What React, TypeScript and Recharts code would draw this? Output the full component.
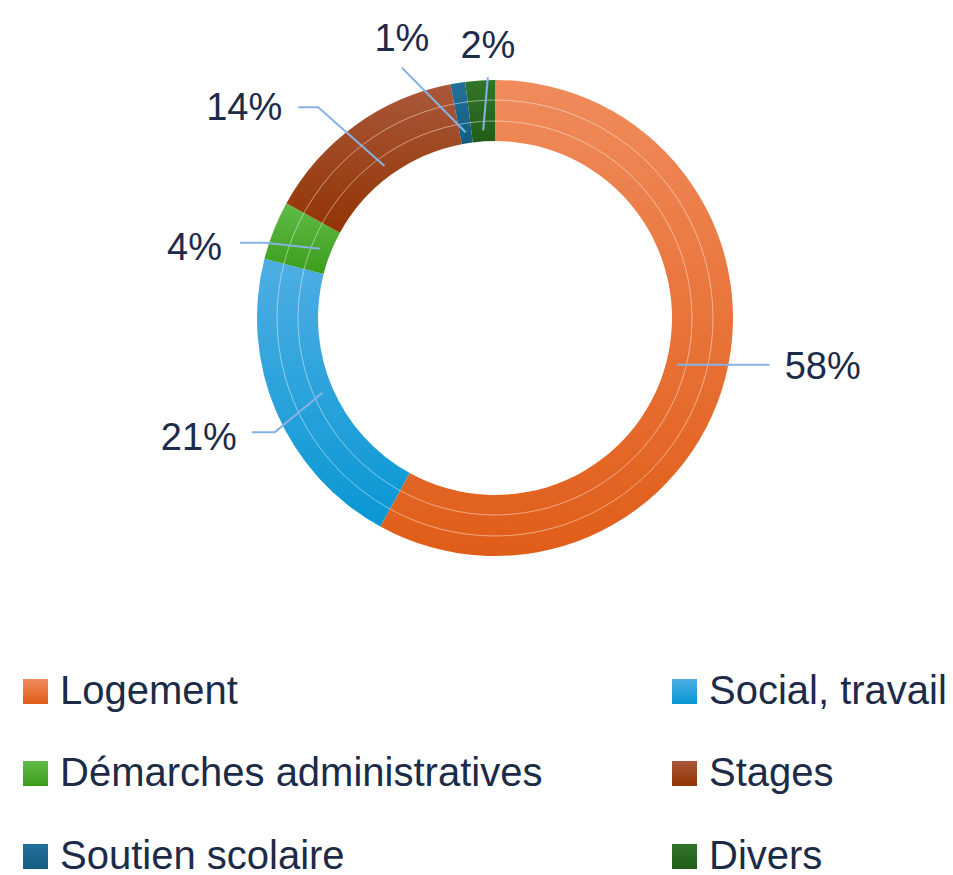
import React from "react";
import { PieChart, Pie, Cell, Legend } from "recharts";

const categories = [
  "Logement",
  "Social, travail",
  "Démarches administratives",
  "Stages",
  "Soutien scolaire",
  "Divers",
];
const values = [58, 21, 4, 14, 1, 2];
// legend order (two columns, row by row)
const legendOrder = [0, 1, 2, 3, 4, 5];

const gradTop = ["#f08b5c", "#4eaee3", "#5fbb47", "#a9583a", "#22719a", "#33752a"];
const gradBottom = ["#e05d18", "#0897d3", "#3b9d1c", "#923404", "#155c82", "#215d18"];

// label leader layout: angle nudge (deg, clockwise), radial offset beyond outer radius, horizontal stub, text mode
const labelLayout = [
  { dA: -4.3, dR: 41, stub: 0, mode: "right", tdx: 15, tdy: 1, flat: true },
  { dA: -4, dR: 10, stub: -23, mode: "left", tdx: -15, tdy: 5, flat: false },
  { dA: -3.5, dR: 4, stub: -25, mode: "left", tdx: -18, tdy: 4, flat: false },
  { dA: -4, dR: 37, stub: -20, mode: "left", tdx: -16, tdy: 0, flat: false },
  { dA: -11.4, dR: 29, stub: 0, mode: "top", tdx: 0, tdy: -30, flat: false },
  { dA: 1.9, dR: 3, stub: 0, mode: "top", tdx: 0, tdy: -32, flat: false },
];

const data = categories.map((name, i) => ({ name, value: values[i] }));
const ringData = [{ name: "ring", value: 1 }];

const RADIAN = Math.PI / 180;
const pt = (cx: number, cy: number, r: number, a: number) => [
  cx + r * Math.cos(-a * RADIAN),
  cy + r * Math.sin(-a * RADIAN),
];

const TEXT = "#1c2b48";
const LEADER = "#86b3e6";
const FONT = "'Liberation Sans', Arial, sans-serif";

const renderLabel = (props: any) => {
  const { cx, cy, midAngle, innerRadius, outerRadius, index, value } = props;
  const L = labelLayout[index];
  const [sx, sy] = pt(cx, cy, innerRadius + 11, midAngle);
  let [ex, ey] = pt(cx, cy, outerRadius + L.dR, midAngle - L.dA);
  if (L.flat) ey = sy;
  const fx = ex + L.stub;
  const tx = fx + L.tdx;
  const ty = ey + L.tdy;
  let anchor: any = "middle";
  if (L.mode === "right") anchor = "start";
  if (L.mode === "left") anchor = "end";
  return (
    <g key={`lab-${index}`}>
      <polyline
        points={`${sx},${sy} ${ex},${ey} ${fx},${ey}`}
        fill="none"
        stroke={LEADER}
        strokeWidth={2}
      />
      <text
        x={tx}
        y={ty}
        textAnchor={anchor}
        dominantBaseline="central"
        fill={TEXT}
        fontSize={38}
        fontFamily={FONT}
      >
        {`${value}%`}
      </text>
    </g>
  );
};

const renderLegend = () => (
  <div style={{ position: "relative", width: 945, height: 867 }}>
    {legendOrder.map((idx, k) => {
      const col = k % 2;
      const row = Math.floor(k / 2);
      const left = col === 0 ? 15 : 664;
      const top = 681.5 + row * 82.5 - 25;
      return (
        <div
          key={categories[idx]}
          style={{
            position: "absolute",
            left,
            top,
            height: 50,
            display: "flex",
            alignItems: "center",
            whiteSpace: "nowrap",
          }}
        >
          <div
            style={{
              width: 25,
              height: 25,
              marginTop: 3,
              marginRight: 12,
              background: `linear-gradient(${gradTop[idx]}, ${gradBottom[idx]})`,
            }}
          />
          <span style={{ fontFamily: FONT, fontSize: 40, color: TEXT, lineHeight: "50px" }}>
            {categories[idx]}
          </span>
        </div>
      );
    })}
  </div>
);

export default function App() {
  return (
    <PieChart width={945} height={867} margin={{ top: 0, right: 0, bottom: 0, left: 0 }}>
      <defs>
        {categories.map((c, i) => (
          <linearGradient key={c} id={`g${i}`} x1="0" y1="0" x2="0" y2="1">
            <stop offset="0%" stopColor={gradTop[i]} />
            <stop offset="100%" stopColor={gradBottom[i]} />
          </linearGradient>
        ))}
      </defs>
      <Pie
        data={data}
        dataKey="value"
        nameKey="name"
        cx={487}
        cy={310}
        innerRadius={177}
        outerRadius={238}
        startAngle={90}
        endAngle={-270}
        stroke="none"
        isAnimationActive={false}
        label={renderLabel}
        labelLine={false}
      >
        {data.map((d, i) => (
          <Cell key={d.name} fill={`url(#g${i})`} />
        ))}
      </Pie>
      <Pie
        data={ringData}
        dataKey="value"
        cx={487}
        cy={310}
        innerRadius={197}
        outerRadius={197}
        startAngle={90}
        endAngle={-270}
        fill="none"
        stroke="#ffffff"
        strokeOpacity={0.25}
        strokeWidth={1}
        isAnimationActive={false}
        legendType="none"
      />
      <Pie
        data={ringData}
        dataKey="value"
        cx={487}
        cy={310}
        innerRadius={218}
        outerRadius={218}
        startAngle={90}
        endAngle={-270}
        fill="none"
        stroke="#ffffff"
        strokeOpacity={0.25}
        strokeWidth={1}
        isAnimationActive={false}
        legendType="none"
      />
      <Legend
        content={renderLegend}
        wrapperStyle={{ position: "absolute", left: 0, top: 0, width: 945, height: 867 }}
      />
    </PieChart>
  );
}
